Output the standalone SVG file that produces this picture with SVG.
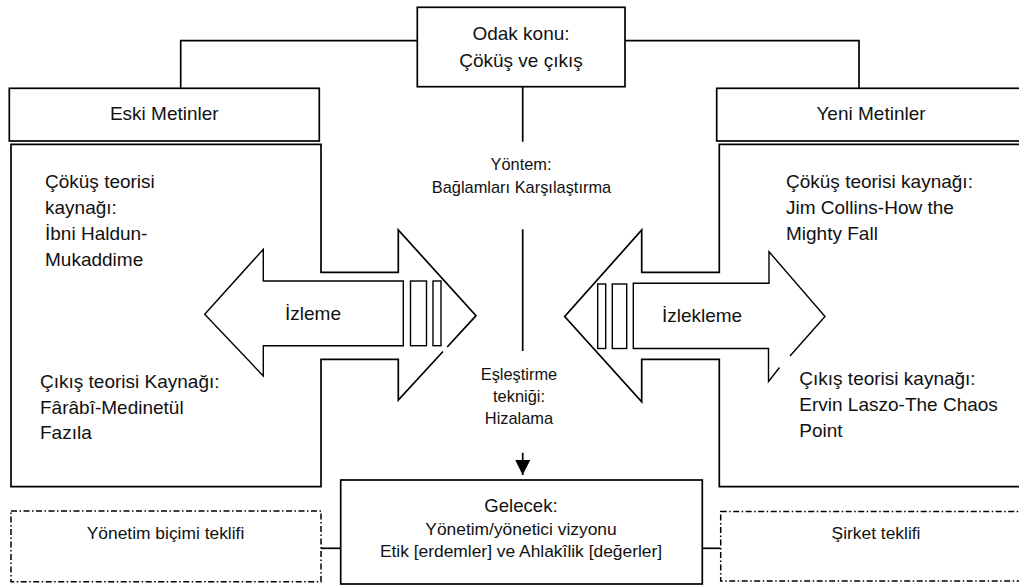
<svg xmlns="http://www.w3.org/2000/svg" width="1019" height="588" viewBox="0 0 1019 588">
<style>
  .box{fill:#fff;stroke:#000;stroke-width:1.7}
  .open{fill:none;stroke:#000;stroke-width:1.7;stroke-linejoin:miter}
  .arr{fill:#fff;stroke:#000;stroke-width:1.4;stroke-linejoin:miter}
  .dd{fill:#fff;stroke:#000;stroke-width:1.5;stroke-dasharray:6 2.5 1.5 2.5}
  .con{fill:none;stroke:#000;stroke-width:1.7}
  text{font-family:"Liberation Sans",Arial,sans-serif;fill:#111}
  .t19{font-size:19px}
  .t18{font-size:18.6px}
  .t17{font-size:17.4px}
  .t16{font-size:16.4px}
  .c{text-anchor:middle}
</style>
<defs>
  <marker id="ah" viewBox="0 0 10 10" refX="10" refY="5" markerWidth="15" markerHeight="15" markerUnits="userSpaceOnUse" orient="auto">
    <path d="M0,0 L10,5 L0,10 Z" fill="#000"/>
  </marker>
</defs>
<rect width="1019" height="588" fill="#fff"/>

<g id="connectors">
  <polyline class="con" points="417,40.7 180.7,40.7 180.7,88.3"/>
  <polyline class="con" points="625,40.7 859,40.7 859,88.3"/>
  <line class="con" x1="522.7" y1="86.7" x2="522.7" y2="141.7"/>
  <line class="con" x1="522.7" y1="229.3" x2="522.7" y2="351"/>
  <line class="con" x1="522.7" y1="452.7" x2="522.7" y2="475" marker-end="url(#ah)"/>
  <line class="con" x1="321" y1="548.3" x2="340.7" y2="548.3"/>
  <line class="con" x1="702.3" y1="548.3" x2="720.7" y2="548.3"/>
</g>

<g id="odak">
  <rect class="box" x="417.3" y="7.3" width="207.7" height="79.4"/>
  <text class="t19 c" x="521" y="39.5">Odak konu:</text>
  <text class="t19 c" x="521" y="66.5">Çöküş ve çıkış</text>
</g>

<g id="eski-header">
  <rect class="box" x="9.3" y="88.3" width="310" height="52.7"/>
  <text class="t19 c" x="164.3" y="120">Eski Metinler</text>
</g>

<g id="yeni-header">
  <rect class="box" x="716.7" y="88.3" width="320" height="52.7"/>
  <text class="t19 c" x="871" y="120">Yeni Metinler</text>
</g>

<g id="eski-content">
  <path class="open" fill="#fff" d="M443,351.5 L398.3,400 L398.3,359.3 L321,359.3 L321,486.7 L11,486.7 L11,144.3 L321,144.3 L321,272.3 L398.3,272.3 L398.3,230 L476,315.7 L447.2,347"/>
  <text class="t19" x="45" y="187.5">Çöküş teorisi</text>
  <text class="t19" x="45" y="213.5">kaynağı:</text>
  <text class="t19" x="45" y="239.5">İbni Haldun-</text>
  <text class="t19" x="45" y="265.5">Mukaddime</text>
  <text class="t19" x="40" y="388">Çıkış teorisi Kaynağı:</text>
  <text class="t19" x="40" y="413.5">Fârâbî-Medinetül</text>
  <text class="t19" x="40" y="439">Fazıla</text>
</g>

<g id="izleme">
  <polygon class="arr" points="403.3,281 263.3,281 263.3,249.3 204.7,314.3 263.3,376 263.3,345.7 403.3,345.7"/>
  <rect class="arr" x="410.5" y="281" width="16" height="64.7"/>
  <rect class="arr" x="433" y="281" width="8" height="64.7"/>
  <text class="t19 c" x="313" y="320">İzleme</text>
</g>

<g id="yeni-content">
  <path class="open" d="M1030,144.3 L719.3,144.3 L719.3,272.3 L641.7,272.3 L641.7,230 L564.7,316.5 L641.7,401.7 L641.7,359.3 L719.3,359.3 L719.3,486.7 L1030,486.7"/>
  <text class="t19" x="786" y="188">Çöküş teorisi kaynağı:</text>
  <text class="t19" x="786" y="214">Jim Collins-How the</text>
  <text class="t19" x="786" y="240">Mighty Fall</text>
  <text class="t19" x="799.3" y="385">Çıkış teorisi kaynağı:</text>
  <text class="t19" x="799.3" y="410.7">Ervin Laszo-The Chaos</text>
  <text class="t19" x="799.3" y="436.7">Point</text>
</g>

<g id="izlekleme">
  <path class="arr" d="M779.5,367.5 L768.5,381.5 L768.5,348.5 L633.3,348.5 L633.3,283.3 L769,283.3 L769,251.7 L825,316.5 L790,356"/>
  <rect class="arr" x="597.7" y="284" width="8" height="64.5"/>
  <rect class="arr" x="612.3" y="284" width="14.4" height="64.5"/>
  <text class="t19 c" x="702" y="321.7">İzlekleme</text>
</g>

<g id="yontem">
  <text class="t16 c" x="521" y="170">Yöntem:</text>
  <text class="t16 c" x="521.5" y="192.7">Bağlamları Karşılaştırma</text>
</g>

<g id="eslestirme">
  <text class="t16 c" x="519" y="380">Eşleştirme</text>
  <text class="t16 c" x="519" y="402">tekniği:</text>
  <text class="t16 c" x="519" y="424.3">Hizalama</text>
</g>

<g id="gelecek">
  <rect class="box" x="340.7" y="480" width="361.6" height="104"/>
  <text class="t18 c" x="521" y="511.5">Gelecek:</text>
  <text class="t17 c" x="521" y="535">Yönetim/yönetici vizyonu</text>
  <text class="t17 c" x="521" y="556.7">Etik [erdemler] ve Ahlakîlik [değerler]</text>
</g>

<g id="yonetim-bicimi">
  <rect class="dd" x="11" y="511" width="310" height="70.7"/>
  <text class="t17 c" x="165.5" y="539">Yönetim biçimi teklifi</text>
</g>

<g id="sirket">
  <rect class="dd" x="720.7" y="511.5" width="310" height="69.5"/>
  <text class="t17 c" x="876" y="539">Şirket teklifi</text>
</g>
</svg>
